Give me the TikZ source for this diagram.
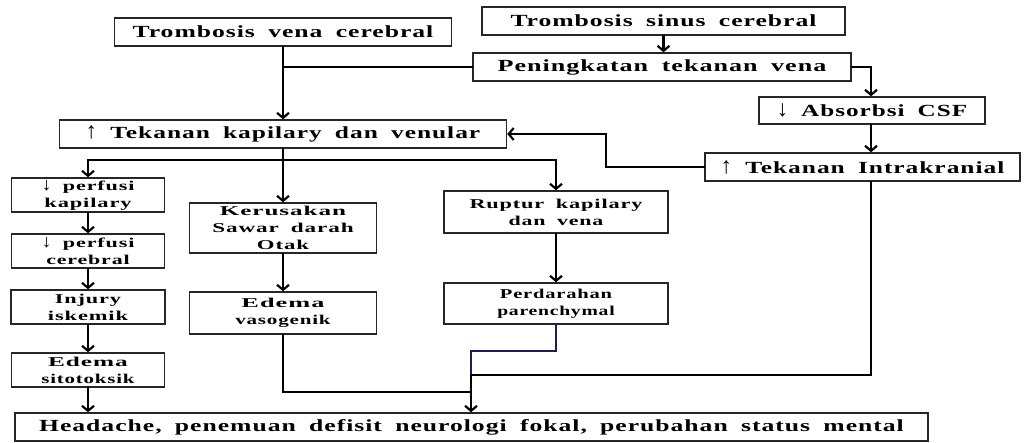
\documentclass[tikz,border=0pt]{standalone}
\usepackage{fontspec}
\usetikzlibrary{arrows.meta}
\setmainfont{Liberation Serif Bold}[FakeStretch=1.3, LetterSpace=5, WordSpace=1.8]
\newcommand{\bigf}{\fontsize{17}{20}\selectfont}
\newcommand{\smf}{\fontsize{13.5}{17}\selectfont}
\newcommand{\hsc}[2]{\scalebox{#1}[1]{#2}}
\newcommand{\tall}[1]{\scalebox{0.9}[1.35]{#1}}
\definecolor{navyline}{HTML}{1C1C5E}
\tikzset{
  box/.style={draw=black!85, line width=1.5pt, fill=white, inner sep=0pt, align=center},
  bigbox/.style={box, font=\bigf},
  smbox/.style={box, font=\smf},
  ln/.style={line width=2.4pt, line cap=rect},
  arr/.style={ln, -{Straight Barb[length=5pt, width=12pt, line width=2.2pt]}},
}
\begin{document}
\begin{tikzpicture}[x=1pt, y=-1pt]
\useasboundingbox (0,0) rectangle (1024,443);
% top
\node[bigbox, minimum width=337pt, minimum height=28pt] (tvc) at (283,32) {\hsc{1.16}{Trombosis vena cerebral}};
\node[bigbox, minimum width=363pt, minimum height=28pt] (tsc) at (663.5,21) {\hsc{1.16}{Trombosis sinus cerebral}};
\node[bigbox, minimum width=378pt, minimum height=28pt] (ptv) at (662,67) {\hsc{1.18}{Peningkatan tekanan vena}};
\node[bigbox, minimum width=226pt, minimum height=27pt] (abs) at (872,110.5) {\hsc{1.14}{\tall{↓} Absorbsi CSF}};
\node[bigbox, minimum width=315pt, minimum height=28pt] (tik) at (862.5,167) {\hsc{1.15}{\tall{↑} Tekanan Intrakranial}};
\node[bigbox, minimum width=447pt, minimum height=28pt] (tkv) at (283,134) {\hsc{1.15}{\tall{↑} Tekanan kapilary dan venular}};
% left column
\node[smbox, minimum width=153pt, minimum height=34pt] (pk) at (88,195) {\hsc{1.26}{\tall{↓} perfusi}\\\hsc{1.28}{kapilary}};
\node[smbox, minimum width=153pt, minimum height=34pt] (pc) at (88,251) {\hsc{1.26}{\tall{↓} perfusi}\\\hsc{1.25}{cerebral}};
\node[smbox, minimum width=154pt, minimum height=34pt] (ii) at (88,307) {\hsc{1.27}{Injury}\\\hsc{1.28}{iskemik}};
\node[smbox, minimum width=153pt, minimum height=34pt] (es) at (88,370) {\hsc{1.44}{Edema}\\\hsc{1.19}{sitotoksik}};
% middle column
\node[smbox, minimum width=187pt, minimum height=50pt] (ksd) at (283,228) {\hsc{1.43}{Kerusakan}\\\hsc{1.32}{Sawar darah}\\\hsc{1.3}{Otak}};
\node[smbox, minimum width=187pt, minimum height=42pt] (ev) at (283,313) {\hsc{1.5}{Edema}\\\hsc{1.2}{vasogenik}};
% right column
\node[smbox, minimum width=224pt, minimum height=42pt] (rkv) at (556,212) {\hsc{1.27}{Ruptur kapilary}\\\hsc{1.25}{dan vena}};
\node[smbox, minimum width=224pt, minimum height=41pt] (pp) at (556,303.5) {\hsc{1.17}{Perdarahan}\\\hsc{1.12}{parenchymal}};
% bottom
\node[bigbox, minimum width=913pt, minimum height=28pt] (hd) at (471.5,427) {\hsc{1.16}{Headache, penemuan defisit neurologi fokal, perubahan status mental}};
% coordinates
\coordinate (c1) at (606,166);
\coordinate (br) at (283,160);
\coordinate (b1) at (471,351);
\coordinate (j) at (471,375);
\coordinate (b2) at (471,392);
% connectors
\draw[arr] (tvc.south) -- (tkv.north);
\draw[ln] (ptv.west) -- (ptv.west -| tvc.south);
\draw[arr] (tsc.south) -- (tsc.south |- ptv.north);
\draw[arr] (ptv.east) -| (abs.north -| 871,0);
\draw[arr] (abs.south -| 871,0) -- (tik.north -| 871,0);
\draw[arr] (tik.west) -| (c1 |- tkv.east) -- (tkv.east);
\draw[ln] (tkv.south) -- (br);
\draw[arr] (br) -| (pk.north);
\draw[arr] (br) -- (ksd.north);
\draw[arr] (br) -| (rkv.north);
\draw[arr] (pk.south) -- (pc.north);
\draw[arr] (pc.south) -- (ii.north);
\draw[arr] (ii.south) -- (es.north);
\draw[arr] (es.south) -- (es.south |- hd.north);
\draw[arr] (ksd.south) -- (ev.north);
\draw[arr] (rkv.south) -- (pp.north);
\draw[ln, navyline] (pp.south) |- (b1) -- (j);
\draw[ln] (tik.south -| 871,0) |- (j);
\draw[ln] (ev.south) |- (b2);
\draw[arr] (j) -- (j |- hd.north);
\end{tikzpicture}
\end{document}
